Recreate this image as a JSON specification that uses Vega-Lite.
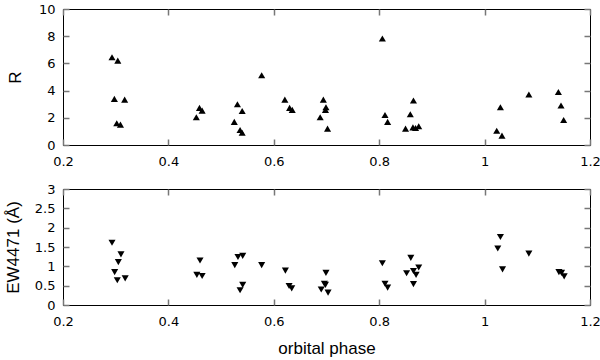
{
  "$schema": "https://vega.github.io/schema/vega-lite/v6.json",
  "padding": {"top": 2, "left": 3, "right": 0, "bottom": 0},
  "background": "white",
  "datasets": {
    "r": [
      {"phase": 0.293, "R": 6.45}, {"phase": 0.304, "R": 6.2}, {"phase": 0.2975, "R": 3.39},
      {"phase": 0.317, "R": 3.34}, {"phase": 0.302, "R": 1.6}, {"phase": 0.309, "R": 1.5},
      {"phase": 0.459, "R": 2.73}, {"phase": 0.464, "R": 2.53}, {"phase": 0.453, "R": 2.04},
      {"phase": 0.531, "R": 3.0}, {"phase": 0.54, "R": 2.5}, {"phase": 0.525, "R": 1.7},
      {"phase": 0.536, "R": 1.1}, {"phase": 0.54, "R": 0.9}, {"phase": 0.577, "R": 5.13},
      {"phase": 0.621, "R": 3.34}, {"phase": 0.63, "R": 2.73}, {"phase": 0.635, "R": 2.58},
      {"phase": 0.694, "R": 3.34}, {"phase": 0.699, "R": 2.78}, {"phase": 0.698, "R": 2.58},
      {"phase": 0.688, "R": 2.04}, {"phase": 0.702, "R": 1.2}, {"phase": 0.806, "R": 7.83},
      {"phase": 0.811, "R": 2.21}, {"phase": 0.816, "R": 1.7}, {"phase": 0.865, "R": 3.27},
      {"phase": 0.859, "R": 2.26}, {"phase": 0.85, "R": 1.2}, {"phase": 0.864, "R": 1.3},
      {"phase": 0.869, "R": 1.25}, {"phase": 0.875, "R": 1.38}, {"phase": 1.03, "R": 2.78},
      {"phase": 1.023, "R": 1.05}, {"phase": 1.033, "R": 0.69}, {"phase": 1.084, "R": 3.71},
      {"phase": 1.14, "R": 3.9}, {"phase": 1.145, "R": 2.9}, {"phase": 1.15, "R": 1.84}
    ],
    "ew": [
      {"phase": 0.293, "EW": 1.61}, {"phase": 0.31, "EW": 1.31}, {"phase": 0.305, "EW": 1.11},
      {"phase": 0.298, "EW": 0.85}, {"phase": 0.303, "EW": 0.64}, {"phase": 0.318, "EW": 0.69},
      {"phase": 0.46, "EW": 1.15}, {"phase": 0.454, "EW": 0.78}, {"phase": 0.464, "EW": 0.75},
      {"phase": 0.532, "EW": 1.24}, {"phase": 0.541, "EW": 1.27}, {"phase": 0.526, "EW": 1.03},
      {"phase": 0.541, "EW": 0.52}, {"phase": 0.536, "EW": 0.38}, {"phase": 0.577, "EW": 1.03},
      {"phase": 0.622, "EW": 0.89}, {"phase": 0.629, "EW": 0.49}, {"phase": 0.634, "EW": 0.43},
      {"phase": 0.699, "EW": 0.83}, {"phase": 0.696, "EW": 0.55}, {"phase": 0.698, "EW": 0.52},
      {"phase": 0.69, "EW": 0.4}, {"phase": 0.703, "EW": 0.32}, {"phase": 0.806, "EW": 1.08},
      {"phase": 0.811, "EW": 0.55}, {"phase": 0.816, "EW": 0.45}, {"phase": 0.86, "EW": 1.22},
      {"phase": 0.852, "EW": 0.82}, {"phase": 0.865, "EW": 0.88}, {"phase": 0.875, "EW": 0.97},
      {"phase": 0.87, "EW": 0.78}, {"phase": 0.865, "EW": 0.54}, {"phase": 1.03, "EW": 1.76},
      {"phase": 1.025, "EW": 1.46}, {"phase": 1.034, "EW": 0.92}, {"phase": 1.084, "EW": 1.33},
      {"phase": 1.141, "EW": 0.85}, {"phase": 1.146, "EW": 0.83}, {"phase": 1.151, "EW": 0.74}
    ]
  },
  "config": {
    "view": {"stroke": "black", "strokeWidth": 1},
    "axis": {
      "domain": false, "grid": false, "labelFlush": false,
      "labelFont": "DejaVu Sans", "labelFontSize": 13, "labelColor": "black",
      "titleFont": "Liberation Sans", "titleFontSize": 17, "titleFontWeight": "normal", "titleColor": "black",
      "tickColor": "#777777", "tickSize": 6, "tickWidth": 1.5, "offset": -6
    }
  },
  "spacing": 13,
  "vconcat": [
    {
      "width": 527, "height": 136,
      "data": {"name": "r"},
      "resolve": {"scale": {"x": "independent", "y": "independent"}, "axis": {"x": "independent", "y": "independent"}},
      "layer": [
        {
          "mark": {"type": "point", "shape": "triangle-up", "filled": true, "color": "black", "size": 50, "opacity": 1},
          "encoding": {
            "x": {"field": "phase", "type": "quantitative", "scale": {"domain": [0.2, 1.2], "nice": false, "zero": false},
                  "axis": {"orient": "bottom", "title": null, "values": [0.2, 0.4, 0.6, 0.8, 1, 1.2], "format": "~r", "labelPadding": 10}},
            "y": {"field": "R", "type": "quantitative", "scale": {"domain": [0, 10], "nice": false},
                  "axis": {"orient": "left", "title": "R", "values": [0, 2, 4, 6, 8, 10], "format": "~r", "labelPadding": 8, "titlePadding": 14}}
          }
        },
        {
          "mark": {"type": "point", "opacity": 0},
          "encoding": {
            "x": {"field": "phase", "type": "quantitative", "scale": {"domain": [0.2, 1.2], "nice": false, "zero": false},
                  "axis": {"orient": "top", "title": null, "labels": false, "values": [0.2, 0.4, 0.6, 0.8, 1, 1.2]}},
            "y": {"field": "R", "type": "quantitative", "scale": {"domain": [0, 10], "nice": false},
                  "axis": {"orient": "right", "title": null, "labels": false, "values": [0, 2, 4, 6, 8, 10]}}
          }
        }
      ]
    },
    {
      "width": 527, "height": 116,
      "data": {"name": "ew"},
      "resolve": {"scale": {"x": "independent", "y": "independent"}, "axis": {"x": "independent", "y": "independent"}},
      "layer": [
        {
          "mark": {"type": "point", "shape": "triangle-down", "filled": true, "color": "black", "size": 50, "opacity": 1},
          "encoding": {
            "x": {"field": "phase", "type": "quantitative", "scale": {"domain": [0.2, 1.2], "nice": false, "zero": false},
                  "axis": {"orient": "bottom", "title": "orbital phase", "values": [0.2, 0.4, 0.6, 0.8, 1, 1.2], "format": "~r", "labelPadding": 10, "titlePadding": 12}},
            "y": {"field": "EW", "type": "quantitative", "scale": {"domain": [0, 3], "nice": false},
                  "axis": {"orient": "left", "title": "EW4471 (Å)", "values": [0, 0.5, 1, 1.5, 2, 2.5, 3], "format": "~r", "labelPadding": 8, "titlePadding": 12}}
          }
        },
        {
          "mark": {"type": "point", "opacity": 0},
          "encoding": {
            "x": {"field": "phase", "type": "quantitative", "scale": {"domain": [0.2, 1.2], "nice": false, "zero": false},
                  "axis": {"orient": "top", "title": null, "labels": false, "values": [0.2, 0.4, 0.6, 0.8, 1, 1.2]}},
            "y": {"field": "EW", "type": "quantitative", "scale": {"domain": [0, 3], "nice": false},
                  "axis": {"orient": "right", "title": null, "labels": false, "values": [0, 0.5, 1, 1.5, 2, 2.5, 3]}}
          }
        }
      ]
    }
  ]
}
